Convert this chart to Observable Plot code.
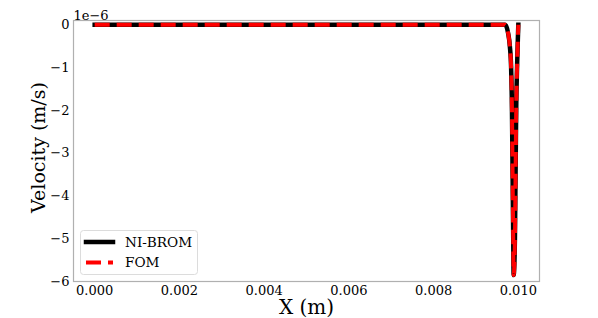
<!DOCTYPE html>
<html>
<head>
<meta charset="utf-8">
<script src="https://cdn.jsdelivr.net/npm/d3@7"></script>
<script src="https://cdn.jsdelivr.net/npm/@observablehq/plot@0.6"></script>
<style>
  html, body { margin: 0; padding: 0; background: #fff; }
  #chart { width: 598px; height: 318px; }
  svg, svg text { font-family: "DejaVu Serif", serif; }
</style>
</head>
<body>
<div id="chart"></div>
<script>
// Position along X (m)
const xPositions = [0, 0.0096, 0.00969, 0.00976, 0.0098, 0.00983, 0.00985, 0.00986, 0.00987, 0.00988, 0.00989, 0.00992, 0.00993, 0.00994, 0.00995, 0.00997, 0.00999, 0.0100];
// Velocity in units of 1e-6 m/s
const niBromVelocity = [0, 0, 0, -0.2, -0.5, -1, -2, -3, -4, -5, -5.85, -5, -4, -3, -2, -1, -0.3, 0];
const fomVelocity    = [0, 0, 0, -0.2, -0.5, -1, -2, -3, -4, -5, -5.85, -5, -4, -3, -2, -1, -0.3, 0];
const seriesNames = ["NI-BROM", "FOM"];
const xTicks = [0, 0.002, 0.004, 0.006, 0.008, 0.010];
const yTicks = [0, -1, -2, -3, -4, -5, -6];
const xLabel = "X (m)";
const yLabel = "Velocity (m/s)";
const offsetLabel = "1e\u22126";

const niBrom = xPositions.map((x, i) => ({x, v: niBromVelocity[i]}));
const fom = xPositions.map((x, i) => ({x, v: fomVelocity[i]}));

const minus = d => d < 0 ? "\u2212" + Math.abs(d) : String(d);
const FF = "DejaVu Serif";

const plot = Plot.plot({
  width: 598,
  height: 318,
  marginLeft: 73,
  marginRight: 59,
  marginTop: 20,
  marginBottom: 37,
  style: {fontFamily: FF, fontSize: "13px", color: "#000", background: "#fff"},
  x: {domain: [-0.0005, 0.0105]},
  y: {domain: [-6, 0.1]},
  marks: [
    Plot.frame({stroke: "#b0b0b0", strokeWidth: 1.2}),
    Plot.axisX({ticks: xTicks, tickSize: 0, tickPadding: 4, tickFormat: d3.format(".3f"), label: null, fontSize: 13, fontFamily: FF, fill: "#000"}),
    Plot.axisY({ticks: yTicks, tickSize: 0, tickPadding: 4, tickFormat: minus, label: null, fontSize: 13, fontFamily: FF, fill: "#000"}),
    Plot.line(niBrom, {x: "x", y: "v", stroke: "#000", strokeWidth: 4.5, curve: "monotone-x", strokeLinecap: "square"}),
    Plot.line(fom, {x: "x", y: "v", stroke: "#ff0000", strokeWidth: 4, curve: "monotone-x", strokeDasharray: "15,7", strokeLinecap: "butt"}),
    Plot.text([xLabel], {frameAnchor: "bottom", dy: 26, lineAnchor: "middle", textAnchor: "middle", fontSize: 20, fontFamily: FF, fill: "#000"}),
    Plot.text([yLabel], {frameAnchor: "left", dx: -35, dy: -3.5, rotate: -90, textAnchor: "middle", lineAnchor: "middle", fontSize: 19, fontFamily: FF, fill: "#000"}),
    Plot.text([offsetLabel], {frameAnchor: "top-left", dy: -1, lineAnchor: "bottom", textAnchor: "start", fontSize: 13, fontFamily: FF, fill: "#000"})
  ]
});

document.getElementById("chart").appendChild(plot);

const svg = d3.select(plot);

// Legend inside the frame, lower-left
const lg = svg.append("g").attr("font-family", FF).attr("font-size", 13.6).attr("text-anchor", "start");
lg.append("rect").attr("x", 80.5).attr("y", 230.5).attr("width", 117).attr("height", 44)
  .attr("rx", 3).attr("fill", "#fff").attr("fill-opacity", 0.8).attr("stroke", "#dcdcdc");
const styles = [
  {stroke: "#000", width: 4.5, dash: null, cap: "square"},
  {stroke: "#ff0000", width: 4, dash: "15,7", cap: "butt"}
];
seriesNames.forEach((name, i) => {
  const y = 242 + i * 20.5;
  lg.append("line").attr("x1", 86).attr("x2", 113).attr("y1", y).attr("y2", y)
    .attr("stroke", styles[i].stroke).attr("stroke-width", styles[i].width)
    .attr("stroke-dasharray", styles[i].dash).attr("stroke-linecap", styles[i].cap);
  lg.append("text").attr("x", 125).attr("y", y).attr("dy", "0.35em").attr("text-anchor", "start")
    .attr("fill", "#000").style("font-size", "13.6px").text(name);
});
</script>
</body>
</html>
